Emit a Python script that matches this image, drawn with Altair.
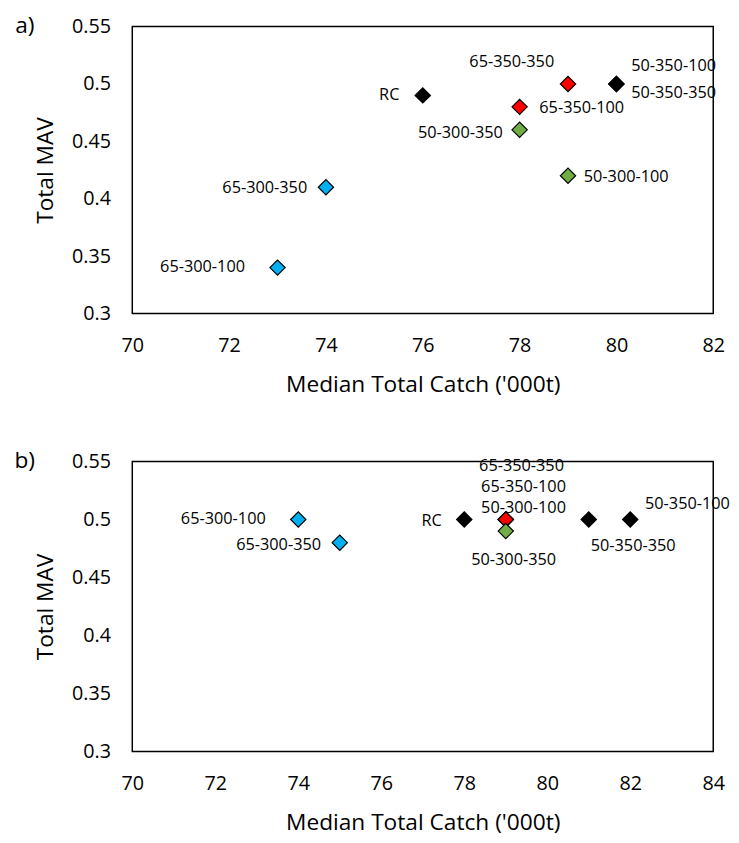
import altair as alt
import pandas as pd

# ---- data: panel a ----
a_labels = ["RC", "65-350-350", "65-350-100", "50-350-100", "50-350-350",
            "50-300-350", "50-300-100", "65-300-350", "65-300-100"]
a_catch = [76, 79, 78, 80, 80, 78, 79, 74, 73]
a_mav = [0.49, 0.50, 0.48, 0.50, 0.50, 0.46, 0.42, 0.41, 0.34]

# ---- data: panel b ----
b_labels = ["65-300-100", "65-300-350", "RC", "50-300-100", "65-350-350",
            "65-350-100", "50-300-350", "50-350-350", "50-350-100"]
b_catch = [74, 75, 78, 79, 79, 79, 79, 81, 82]
b_mav = [0.50, 0.48, 0.50, 0.50, 0.50, 0.50, 0.49, 0.50, 0.50]

# axis tick values
a_xticks = [70, 72, 74, 76, 78, 80, 82]
b_xticks = [70, 72, 74, 76, 78, 80, 82, 84]
y_ticks = [0.3, 0.35, 0.4, 0.45, 0.5, 0.55]

# label offsets (pixels, label centre relative to marker) - styling only
a_label_dx = [-34, -57, 63, 58, 58, -60, 59, -62, -76]
a_label_dy = [0, -22, 1, -18, 9, 3, 1, 1, -1]
b_label_dx = [-76, -62, -33, 18, 16, 18, 8, 45, 58]
b_label_dy = [0, 2, 2, -12, -54, -33, 29, 27, -16]

group_domain = ["RC", "50-350", "65-350", "50-300", "65-300"]
group_range = ["#000000", "#000000", "#FF0000", "#70AD47", "#00B0F0"]

FONT = "Open Sans"


def group_of(lbl):
    return "RC" if lbl == "RC" else lbl[:6]


def panel(labels, catch, mav, dxs, dys, xticks, tag, h):
    df = pd.DataFrame({
        "label": labels,
        "catch": catch,
        "mav": mav,
        "group": [group_of(l) for l in labels],
        "order": list(range(len(labels))),
    })
    x = alt.X("catch:Q",
              scale=alt.Scale(domain=[xticks[0], xticks[-1]], nice=False, zero=False),
              axis=alt.Axis(values=xticks, title="Median Total Catch ('000t)",
                            grid=False, ticks=False, domain=False,
                            labelFont=FONT, labelFontSize=20, labelColor="#000",
                            labelPadding=23, labelFlush=False,
                            titleFont=FONT, titleFontSize=23, titleFontWeight="normal",
                            titleColor="#000", titleY=72, titleBaseline="middle"))
    y = alt.Y("mav:Q",
              scale=alt.Scale(domain=[0.3, 0.55], nice=False, zero=False),
              axis=alt.Axis(values=y_ticks, format="~g", title="Total MAV",
                            grid=False, ticks=False, domain=False,
                            labelFont=FONT, labelFontSize=20, labelColor="#000",
                            labelPadding=22, labelFlush=False,
                            titleFont=FONT, titleFontSize=23, titleFontWeight="normal",
                            titleColor="#000", titleX=-88, titleY=h / 2,
                            titleBaseline="middle", titleAngle=270))
    base = alt.Chart(df)
    pts = base.mark_point(shape="diamond", filled=True, size=240, stroke="#000",
                          strokeWidth=1.2, opacity=1).encode(
        x=x, y=y,
        fill=alt.Fill("group:N", scale=alt.Scale(domain=group_domain, range=group_range),
                      legend=None),
        order=alt.Order("order:Q"),
    )
    layers = [pts]
    for i, (dx, dy) in enumerate(zip(dxs, dys)):
        layers.append(
            base.transform_filter(alt.datum.order == i).mark_text(
                font=FONT, fontSize=16.5, align="center", baseline="middle",
                color="#000", dx=dx, dy=dy
            ).encode(x=x, y=y, text="label:N")
        )
    tagc = alt.Chart(pd.DataFrame({"t": [tag]})).mark_text(
        font=FONT, fontSize=23, align="center", baseline="middle", color="#000"
    ).encode(x=alt.value(-109), y=alt.value(0), text="t:N")
    layers.append(tagc)
    return alt.layer(*layers).properties(width=589, height=h)


ca = panel(a_labels, a_catch, a_mav, a_label_dx, a_label_dy, a_xticks, "a)", 291)
cb = panel(b_labels, b_catch, b_mav, b_label_dx, b_label_dy, b_xticks, "b)", 294)

chart = alt.vconcat(ca, cb, spacing=150, bounds="flush").configure_view(
    stroke="#000", strokeWidth=1.5
).properties(padding={"left": 5, "top": 1, "right": 0, "bottom": 0}, background="white")

chart.save("out.html", embed_options={"renderer": "svg", "actions": False})
